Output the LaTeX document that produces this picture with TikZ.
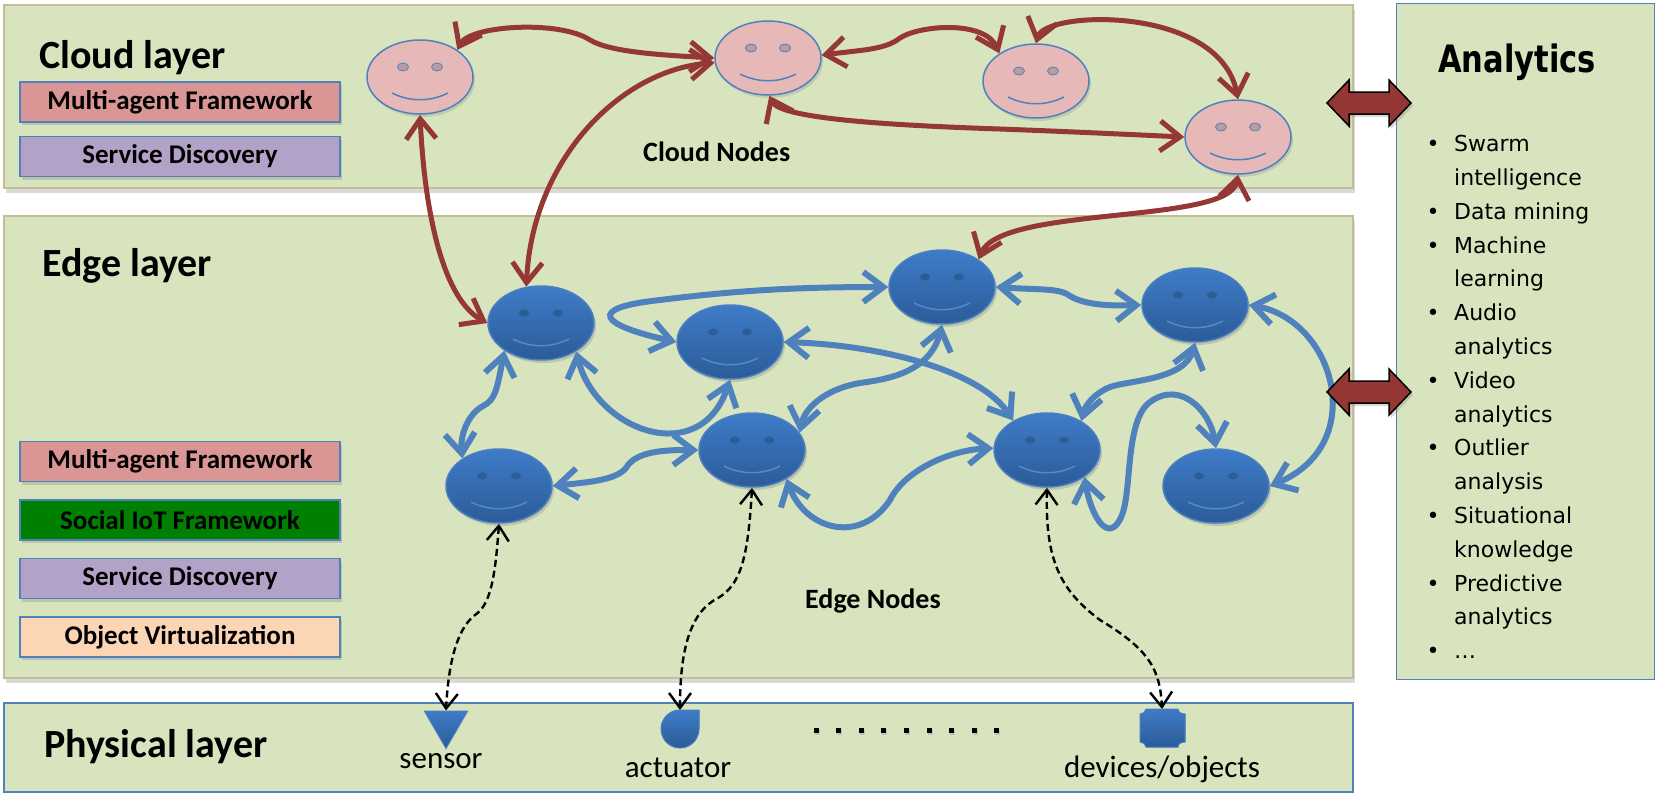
\documentclass[tikz,border=0pt]{standalone}
\usepackage{fontspec}
\setmainfont{Carlito}
\newfontfamily\anlist{DejaVu Sans}
\newfontfamily\antitle{DejaVu Sans Bold}[FakeStretch=0.81]
\usetikzlibrary{shapes.geometric,arrows.meta,shadows}
\pgfdeclarelayer{bg}
\pgfdeclarelayer{links}
\pgfsetlayers{bg,links,main}
\definecolor{layerfill}{HTML}{D7E4BD}
\definecolor{tanline}{HTML}{C4BD97}
\definecolor{boxblue}{HTML}{4F81BD}
\definecolor{linkred}{HTML}{953735}
\definecolor{blockred}{HTML}{943634}
\definecolor{linkblue}{HTML}{4F81BD}
\definecolor{pinkface}{HTML}{E6B9B8}
\definecolor{pinkeye}{HTML}{BC9C9E}
\definecolor{ftop}{HTML}{3E7CC8}
\definecolor{fbot}{HTML}{2C5B98}
\definecolor{fedge}{HTML}{4A7FC2}
\definecolor{feye}{HTML}{2D5C96}
\definecolor{fmouth}{HTML}{5389CC}
\definecolor{mafill}{HTML}{D99694}
\definecolor{sdfill}{HTML}{B3A2C7}
\definecolor{siotfill}{HTML}{008000}
\definecolor{ovfill}{HTML}{FCD5B5}

\begin{document}
\begin{tikzpicture}[x=1pt, y=-1pt,
  layer/.style={draw=tanline, line width=1.5pt, fill=layerfill, inner sep=0pt,
    drop shadow={shadow xshift=2pt, shadow yshift=-5pt, opacity=0.3}},
  physlayer/.style={draw=boxblue, line width=1.5pt, fill=layerfill, inner sep=0pt},
  lbl/.style={draw=boxblue, line width=1.5pt, minimum width=320pt, minimum height=40pt,
    inner sep=0pt, font=\bfseries\fontsize{27}{30}\selectfont,
    drop shadow={shadow xshift=2pt, shadow yshift=-3pt, opacity=0.3}},
  ltitle/.style={inner sep=0pt, anchor=base west, font=\bfseries\fontsize{40}{44}\selectfont},
  ntitle/.style={inner sep=0pt, anchor=base west, font=\bfseries\fontsize{28}{30}\selectfont},
  ptext/.style={inner sep=0pt, anchor=base, font=\fontsize{31}{34}\selectfont},
  listtext/.style={inner sep=0pt, font=\anlist\fontsize{22}{26}\selectfont},
  cface/.style={ellipse, minimum width=106pt, minimum height=74pt, inner sep=0pt,
    draw=boxblue, line width=1.5pt, fill=pinkface,
    drop shadow={opacity=0.25, shadow xshift=2pt, shadow yshift=-3pt}},
  eface/.style={ellipse, minimum width=106pt, minimum height=74pt, inner sep=0pt,
    draw=fedge, line width=1.5pt, top color=ftop, bottom color=fbot,
    drop shadow={opacity=0.3, shadow xshift=2pt, shadow yshift=-3pt}},
  physshape/.style={draw=fedge, line width=1pt, top color=ftop, bottom color=fbot},
  redlink/.style={draw=linkred, line width=5pt,
    {Straight Barb[length=20pt,width=30pt]}-{Straight Barb[length=20pt,width=30pt]}},
  bluelink/.style={draw=linkblue, line width=6pt,
    {Straight Barb[length=20pt,width=30pt]}-{Straight Barb[length=20pt,width=30pt]}},
  dlink/.style={draw=black, line width=2.4pt, dash pattern=on 7pt off 4pt,
    {Straight Barb[length=15pt,width=22pt]}-{Straight Barb[length=15pt,width=22pt]}},
  blockarrow/.style={fill=blockred, draw=black, line width=1.5pt,
    drop shadow={opacity=0.3, shadow xshift=2pt, shadow yshift=-3pt}}
]
\useasboundingbox (0,0) rectangle (1656,793);

% ---------- layer panels ----------
\begin{pgfonlayer}{bg}
  \node[layer, anchor=north west, minimum width=1349pt, minimum height=183pt] (cloudlayer) at (3,4) {};
  \node[layer, anchor=north west, minimum width=1349pt, minimum height=462pt] (edgelayer) at (3,215) {};
  \node[physlayer, anchor=north west, minimum width=1349pt, minimum height=89pt] (physlayer) at (3,702) {};
  \node[physlayer, line width=1.2pt, anchor=north west, minimum width=258pt, minimum height=676pt] (analytics) at (1396,3) {};
\end{pgfonlayer}

% ---------- titles ----------
\node[ltitle] (cloudtitle) at (39,68) {Cloud layer};
\node[ltitle] (edgetitle) at (42,276) {Edge layer};
\node[ltitle] (phystitle) at (44,757) {Physical layer};
\node[ntitle] (cloudnodes) at (643,161) {Cloud Nodes};
\node[ntitle] (edgenodes) at (805,608) {Edge Nodes};

% ---------- framework boxes ----------
\node[lbl, fill=mafill] (cma) at (180,102) {Multi-agent Framework};
\node[lbl, fill=sdfill] (csd) at (180,156.5) {Service Discovery};
\node[lbl, fill=mafill] (ema) at (180,461.5) {Multi-agent Framework};
\node[lbl, fill=siotfill] (esiot) at (180,520) {Social IoT Framework};
\node[lbl, fill=sdfill] (esd) at (180,578.5) {Service Discovery};
\node[lbl, fill=ovfill] (eov) at (180,637) {Object Virtualization};

% ---------- cloud nodes ----------
\node[cface] (C1) at (420,77) {};
\node[cface] (C2) at (768,58) {};
\node[cface] (C3) at (1036,81) {};
\node[cface] (C4) at (1238,137) {};
\foreach \n in {C1,C2,C3,C4} {
  \filldraw[fill=pinkeye, draw=boxblue, line width=0.8pt]
    ([shift={(-17,-10)}]\n.center) ellipse[x radius=5.5, y radius=4]
    ([shift={(17,-10)}]\n.center) ellipse[x radius=5.5, y radius=4];
  \draw[boxblue, line width=1.5pt] ([shift={(-28,16)}]\n.center)
    .. controls +(18,9) and +(-18,9) .. ([shift={(28,16)}]\n.center);
}

% ---------- edge nodes ----------
\node[eface] (E1) at (541,323) {};
\node[eface] (E2) at (730,342) {};
\node[eface] (E3) at (942,287) {};
\node[eface] (E4) at (1195,305) {};
\node[eface] (E5) at (499,486) {};
\node[eface] (E6) at (752,450) {};
\node[eface] (E7) at (1047,450) {};
\node[eface] (E8) at (1216,486) {};
\foreach \n in {E1,E2,E3,E4,E5,E6,E7,E8} {
  \fill[feye]
    ([shift={(-17,-10)}]\n.center) ellipse[x radius=5, y radius=3.6]
    ([shift={(17,-10)}]\n.center) ellipse[x radius=5, y radius=3.6];
  \draw[fmouth, line width=1.5pt] ([shift={(-28,16)}]\n.center)
    .. controls +(18,9) and +(-18,9) .. ([shift={(28,16)}]\n.center);
}

% ---------- physical objects ----------
\node[regular polygon, regular polygon sides=3, shape border rotate=180,
  minimum size=50pt, inner sep=0pt, physshape] (sensor) at (446,723.5) {};
\coordinate (actuator) at (680,710);
\filldraw[physshape] (680,710) -- (699,710) -- (699,729)
  arc[start angle=0, end angle=270, radius=19] -- cycle;
\coordinate (device) at (1162,709);
\filldraw[physshape] (1146,709) -- (1178,709)
  .. controls (1178,712) and (1181,714) .. (1185,714) -- (1185,742)
  .. controls (1181,742) and (1178,744) .. (1178,747) -- (1146,747)
  .. controls (1146,744) and (1143,742) .. (1140,742) -- (1140,714)
  .. controls (1143,714) and (1146,712) .. (1146,709) -- cycle;
\foreach \i in {0,...,8}
  \fill[black, drop shadow={opacity=0.3, shadow xshift=1pt, shadow yshift=-2pt}]
    ({816+22.6*\i-2.5},727.5) rectangle +(5,5);
\node[ptext] (sensorlbl) at (441,768) {sensor};
\node[ptext] (actuatorlbl) at (678,777) {actuator};
\node[ptext] (devicelbl) at (1162,777) {devices/objects};

% ---------- analytics panel ----------
\node[inner sep=0pt, anchor=base, font=\antitle\fontsize{37.7}{40}\selectfont] (antitle) at (1517,72) {Analytics};
\foreach \k/\b/\t in {0/1/Swarm, 1/0/intelligence, 2/1/Data mining, 3/1/Machine,
    4/0/learning, 5/1/Audio, 6/0/analytics, 7/1/Video, 8/0/analytics,
    9/1/Outlier, 10/0/analysis, 11/1/Situational, 12/0/knowledge,
    13/1/Predictive, 14/0/analytics, 15/1/…} {
  \node[listtext, anchor=base west] (L\k) at (1454,{151.6+33.8*\k}) {\t};
  \ifnum\b=1
    \node[listtext, anchor=base] (B\k) at (1433,{151.6+33.8*\k}) {•};
  \fi
}
\foreach \cy [count=\j] in {103,392}
  \filldraw[blockarrow] (1327,\cy) -- (1349,{\cy-23}) -- (1349,{\cy-11})
    -- (1389,{\cy-11}) -- (1389,{\cy-23}) -- (1411,\cy) -- (1389,{\cy+23})
    -- (1389,{\cy+11}) -- (1349,{\cy+11}) -- (1349,{\cy+23}) -- cycle;

% ---------- connectors ----------
\begin{pgfonlayer}{links}
  % cloud links
  \draw[redlink] (C1.36) .. controls (470,25) and (560,20) .. (590,40)
    .. controls (610,52) and (660,55) .. (C2.west);
  \draw[redlink] (C2.3) .. controls (860,50) and (885,50) .. (900,38)
    .. controls (920,25) and (985,20) .. (C3.143);
  \draw[redlink] (C3.north) .. controls (1045,10) and (1220,5) .. (C4.north);
  \draw[redlink] (C2.-88) .. controls (780,118) and (880,125) .. (1000,129)
    .. controls (1080,132) and (1140,135) .. (C4.west);
  \draw[redlink] (C1.south) .. controls (425,220) and (445,300) .. (E1.west);
  \draw[redlink] (E1.112) .. controls (532,160) and (620,70) .. (C2.185);
  \draw[redlink] (C4.south) .. controls (1230,225) and (1000,205) .. (E3.37);
  % edge links
  \draw[bluelink] (E2.west) .. controls (600,325) and (585,308) .. (660,300)
    .. controls (740,290) and (800,287) .. (E3.west);
  \draw[bluelink] (E1.217) .. controls (497,390) and (495,400) .. (483,406)
    .. controls (468,414) and (460,435) .. (E5.143);
  \draw[bluelink] (E1.-39) .. controls (595,430) and (700,470) .. (E2.south);
  \draw[bluelink] (E5.east) .. controls (590,482) and (620,480) .. (628,465)
    .. controls (640,450) and (670,450) .. (E6.west);
  \draw[bluelink] (E2.east) .. controls (880,345) and (980,370) .. (E7.139);
  \draw[bluelink] (E3.south) .. controls (930,375) and (880,380) .. (860,383)
    .. controls (830,388) and (805,405) .. (E6.20);
  \draw[bluelink] (E3.east) .. controls (1040,290) and (1060,288) .. (1070,296)
    .. controls (1085,305) and (1110,306) .. (E4.west);
  \draw[bluelink] (E6.-40) .. controls (805,530) and (860,545) .. (890,500)
    .. controls (905,470) and (950,450) .. (E7.178);
  \draw[bluelink] (E4.south) .. controls (1185,380) and (1130,380) .. (1110,387)
    .. controls (1095,393) and (1085,405) .. (E7.40);
  \draw[bluelink] (E7.-36) .. controls (1092,520) and (1110,545) .. (1122,515)
    .. controls (1132,490) and (1125,420) .. (1150,402)
    .. controls (1180,380) and (1210,410) .. (E8.north);
  \draw[bluelink] (E4.east) .. controls (1335,320) and (1370,445) .. (E8.east);
  % edge to physical links
  \draw[dlink] (E5.south) .. controls (495,580) and (490,605) .. (475,615)
    .. controls (455,630) and (448,670) .. (sensor.north);
  \draw[dlink] (E6.south) .. controls (748,560) and (740,585) .. (718,598)
    .. controls (690,612) and (680,650) .. (actuator);
  \draw[dlink] (E7.south) .. controls (1045,560) and (1060,590) .. (1100,620)
    .. controls (1150,650) and (1160,670) .. (device);
\end{pgfonlayer}
\end{tikzpicture}
\end{document}
